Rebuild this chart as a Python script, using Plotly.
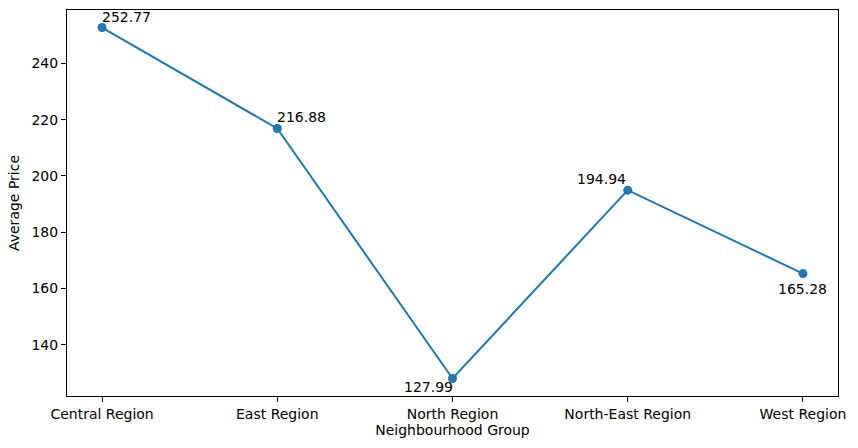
import plotly.graph_objects as go

categories = ["Central Region", "East Region", "North Region", "North-East Region", "West Region"]
avg_price = [252.77, 216.88, 127.99, 194.94, 165.28]
label_text = ["252.77", "216.88", "127.99", "194.94", "165.28"]
y_ticks = [140, 160, 180, 200, 220, 240]

# label placement per point: (xanchor, yanchor, xshift, yshift)
placement = [
    ("left", "bottom", -1, 2),
    ("left", "bottom", -1, 2),
    ("right", "top", 1, 0),
    ("right", "bottom", -1, 2),
    ("center", "top", 0, -6),
]

xs = list(range(len(categories)))
blue = "#1f77b4"
font = dict(family="DejaVu Sans", size=14, color="black")

fig = go.Figure()
fig.add_trace(go.Scatter(
    x=xs, y=avg_price, mode="lines+markers",
    line=dict(color=blue, width=2),
    marker=dict(color=blue, size=9),
    showlegend=False, hoverinfo="skip",
))

for i, (xa, ya, xsft, ysft) in enumerate(placement):
    fig.add_annotation(
        x=xs[i], y=avg_price[i], text=label_text[i], showarrow=False,
        xanchor=xa, yanchor=ya, xshift=xsft, yshift=ysft,
        font=font, borderpad=0,
    )

lo, hi = min(avg_price), max(avg_price)
pad = (hi - lo) * 0.05
axis_common = dict(
    showline=True, linecolor="black", linewidth=1, mirror=True,
    ticks="outside", ticklen=5, tickwidth=1, tickcolor="black",
    showgrid=False, zeroline=False, tickfont=font,
)

fig.update_layout(
    width=858, height=448,
    margin=dict(l=67, r=20, t=10, b=52),
    paper_bgcolor="white", plot_bgcolor="white",
    font=font,
    xaxis=dict(
        range=[-0.2, len(categories) - 1 + 0.2],
        tickvals=xs, ticktext=categories,
        title=dict(text="Neighbourhood Group", font=font, standoff=4),
        **axis_common,
    ),
    yaxis=dict(
        range=[lo - pad, hi + pad],
        tickvals=y_ticks,
        title=dict(text="Average Price", font=font, standoff=8),
        **axis_common,
    ),
)

fig.write_html("out.html", config={"displayModeBar": False},
               post_script="document.body.style.margin='0';")
